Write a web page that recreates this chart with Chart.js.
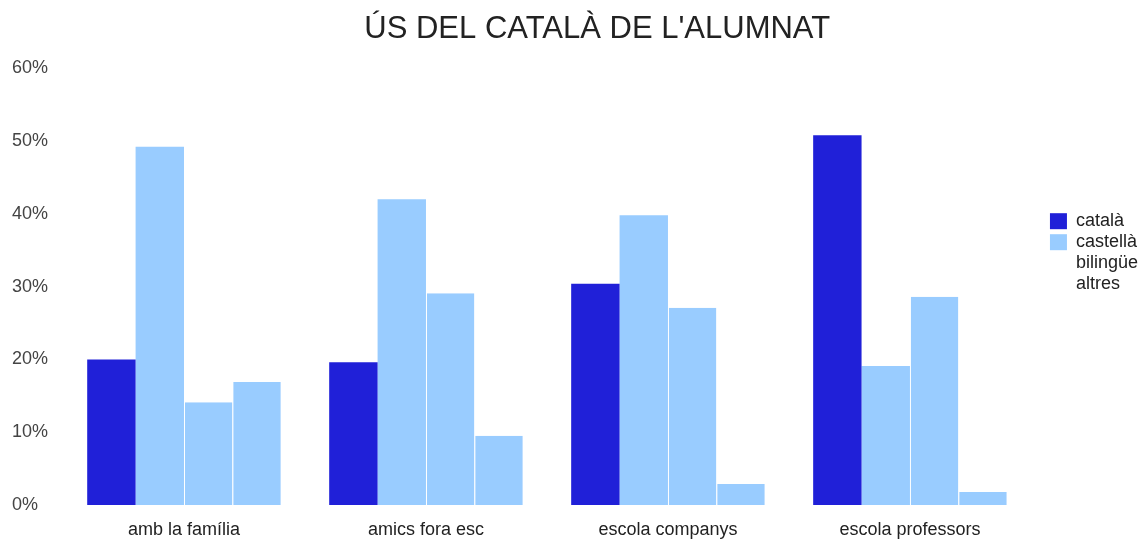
<!DOCTYPE html>
<html>
<head>
<meta charset="utf-8">
<script src="https://cdn.jsdelivr.net/npm/chart.js@4"></script>
<style>
  html, body { margin: 0; padding: 0; background: #fff; }
  #wrap { width: 1148px; height: 540px; }
</style>
</head>
<body>
<div id="wrap"><canvas id="usChart"></canvas></div>
<script>
// Ús del català de l'alumnat (percentatges)
const categories = ['amb la família', 'amics fora esc', 'escola companys', 'escola professors'];
const catala = [20.0, 19.6, 30.4, 50.8];
const castella = [49.2, 42.0, 39.8, 19.1];
const bilingue = [14.1, 29.1, 27.1, 28.6];
const altres = [16.9, 9.5, 2.9, 1.8];
const yTicks = [0, 10, 20, 30, 40, 50, 60];

const darkBlue = '#2020d8';
const lightBlue = '#99ccff';
const fontFamily = '"Liberation Sans", Arial, sans-serif';

const ctx = document.getElementById('usChart');

new Chart(ctx, {
  type: 'bar',
  data: {
    labels: categories,
    datasets: [
      { label: 'català', data: catala, backgroundColor: darkBlue, borderWidth: 0 },
      { label: 'castellà', data: castella, backgroundColor: lightBlue, borderWidth: 0 },
      { label: 'bilingüe', data: bilingue, backgroundColor: lightBlue,
        borderColor: 'rgba(255,255,255,0.6)', borderWidth: { left: 1, right: 0, top: 0, bottom: 0 }, borderSkipped: false },
      { label: 'altres', data: altres, backgroundColor: lightBlue,
        borderColor: 'rgba(255,255,255,0.6)', borderWidth: { left: 1, right: 0, top: 0, bottom: 0 }, borderSkipped: false }
    ]
  },
  options: {
    responsive: true,
    maintainAspectRatio: false,
    animation: false,
    categoryPercentage: 0.8,
    barPercentage: 1.0,
    layout: {
      padding: { top: 0, bottom: 0, left: 12, right: 0 }
    },
    scales: {
      x: {
        grid: { display: false },
        border: { display: false },
        ticks: {
          color: '#222',
          padding: 6,
          font: { family: fontFamily, size: 18 }
        },
        afterFit: (scale) => { scale.height = 35; }
      },
      y: {
        min: 0,
        max: 60,
        afterBuildTicks: (axis) => {
          axis.ticks = yTicks.map((v) => ({ value: v }));
        },
        grid: { display: false },
        border: { display: false },
        ticks: {
          color: '#444',
          padding: 10,
          crossAlign: 'far',
          font: { family: fontFamily, size: 18 },
          callback: (v) => v + '%'
        },
        afterFit: (scale) => { scale.width = 51; }
      },
      // empty axis on the right, only keeps a gap before the legend
      gap: {
        type: 'linear',
        position: 'right',
        display: true,
        grid: { display: false },
        border: { display: false },
        ticks: { display: false },
        afterFit: (scale) => { scale.width = 16; }
      }
    },
    plugins: {
      title: {
        display: true,
        // leading spaces push the centred title a bit to the right, as in the original
        text: "\u00A0\u00A0\u00A0\u00A0ÚS DEL CATALÀ DE L'ALUMNAT",
        color: '#222',
        font: { family: fontFamily, size: 31, weight: 'normal' },
        padding: { top: 11, bottom: 20 }
      },
      legend: {
        position: 'right',
        align: 'start',
        title: {
          display: true,
          text: ' ',
          font: { size: 1 },
          padding: { top: 208, bottom: 0 }
        },
        labels: {
          boxWidth: 17,
          boxHeight: 16,
          padding: 3,
          color: '#222',
          font: { family: fontFamily, size: 18 },
          generateLabels: (chart) => {
            const items = Chart.defaults.plugins.legend.labels.generateLabels(chart);
            items.forEach((item, i) => {
              if (i > 1) {
                item.fillStyle = 'rgba(0,0,0,0)';
                item.strokeStyle = 'rgba(0,0,0,0)';
              }
              item.lineWidth = 0;
            });
            return items;
          }
        }
      },
      tooltip: { enabled: false }
    }
  }
});
</script>
</body>
</html>
